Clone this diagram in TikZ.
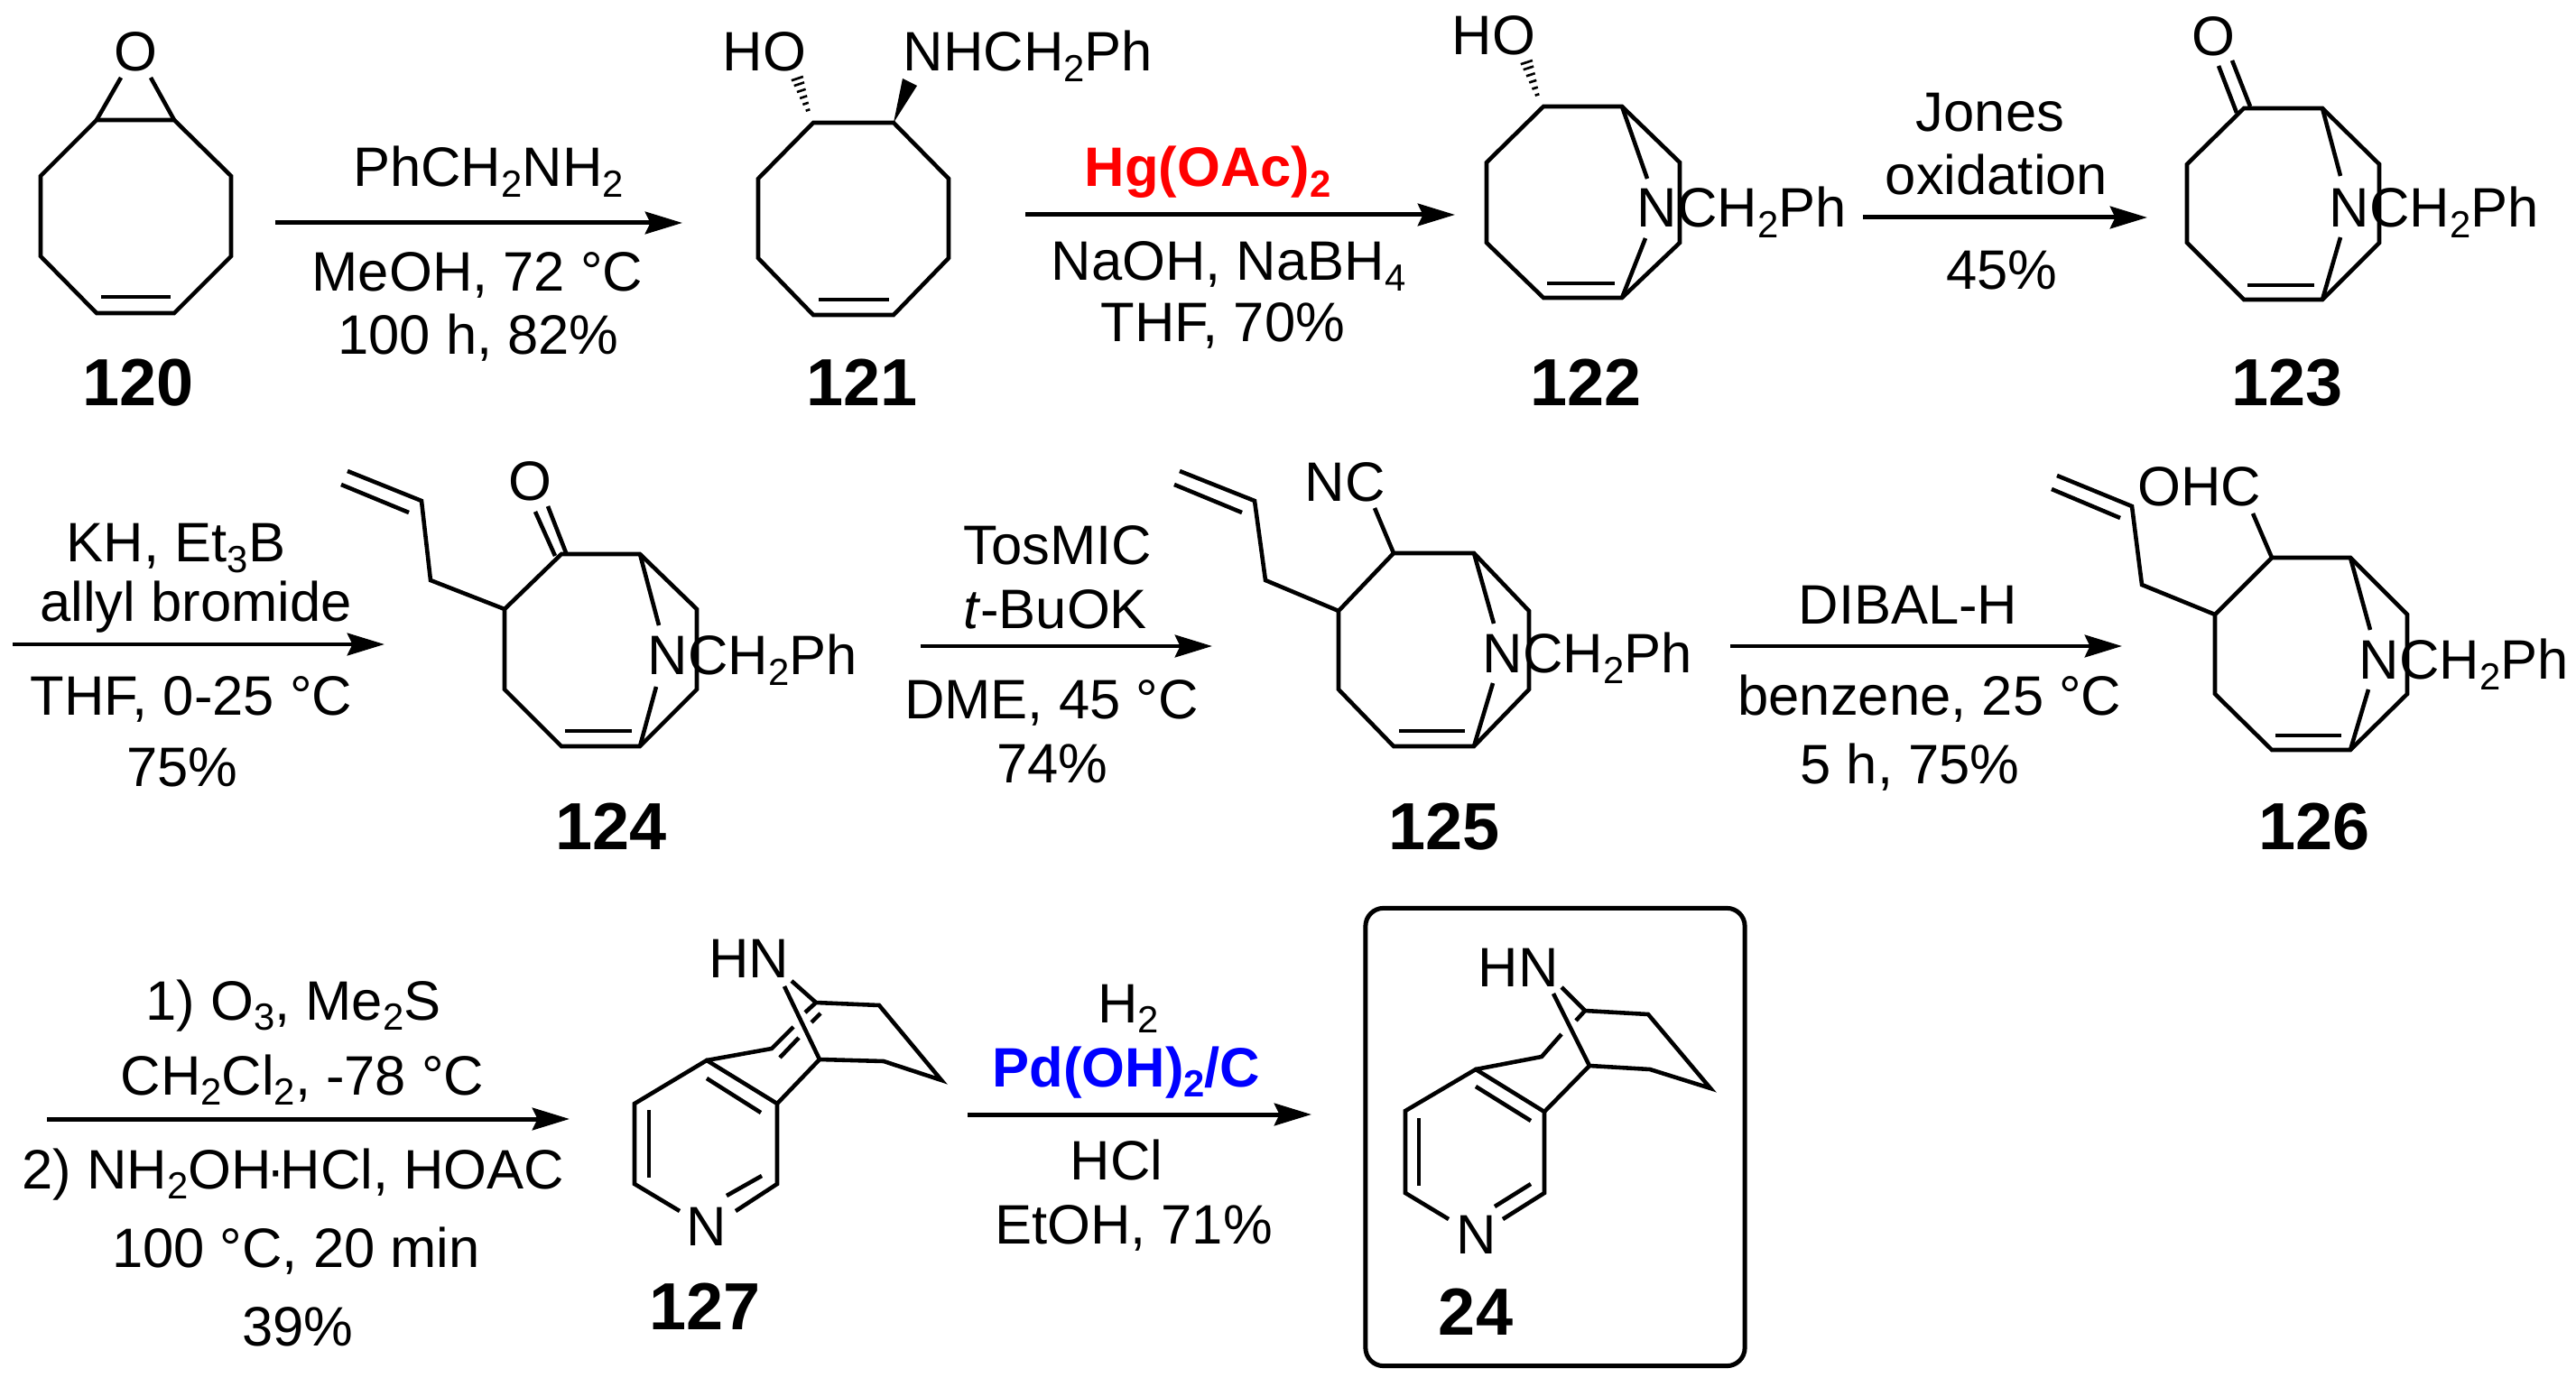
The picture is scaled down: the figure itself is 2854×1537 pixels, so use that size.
\documentclass[tikz,border=0pt]{standalone}
\usepackage{fontspec}
\setmainfont{Liberation Sans}
\usetikzlibrary{arrows.meta, calc}

\newcommand{\subs}[1]{\raisebox{-3.4pt}{\fontsize{11.9}{12}\selectfont #1}}
\newcommand{\pts}[2]{\foreach \vtx/\px/\py in {#2} \coordinate (#1\vtx) at (\px,\py);}
\newcommand{\eightring}[1]{%
  \draw[bond] (#1a) -- (#1b) -- (#1c) -- (#1d) -- (#1e) -- (#1f) -- (#1g) -- (#1h) -- cycle;
  \draw[bond] (#1i) -- (#1j);}
\newcommand{\nbridge}[1]{%
  \draw[bond] (#1b) -- (#1k);
  \draw[bond] (#1l) -- (#1e);}
\newcommand{\allyl}[1]{%
  \draw[bond] (#1h) -- (#1m) -- (#1n) -- (#1o);
  \draw[bond] (#1p) -- (#1q);}
\newcommand{\hashbond}[2]{%
  \foreach \t/\w in {0/0.7,0.2/0.95,0.4/1.2,0.6/1.45,0.8/1.7,0.97/1.95}
    \draw[line width=0.75pt] ($(#1)!\t!(#2)!\w pt!90:(#2)$) -- ($(#1)!\t!(#2)!\w pt!-90:(#2)$);}
\newcommand{\pyridine}[1]{%
  \draw[bond] (#1s2) -- (#1s) -- (#1t) -- (#1p) -- (#1q) -- (#1r) -- (#1r2);
  \draw[bond] (#1i1) -- (#1i2);
  \draw[bond] (#1i3) -- (#1i4);
  \draw[bond] (#1i5) -- (#1i6);
  \draw[bond] (#1p) -- (#1u) -- (#1v);
  \draw[bond] (#1w) -- (#1x) -- (#1y) -- (#1z) -- (#1aa) -- (#1bb) -- (#1q);
  \draw[bond] (#1x) -- (#1hn);
  \draw[bond] (#1bb) -- (#1nb);}

\begin{document}
\begin{tikzpicture}[
x=0.01cm, y=-0.01cm,
bond/.style={line width=1.3pt},
rxn/.style={line width=1.42pt, -{Stealth[length=11.7pt, width=7pt, inset=1.6pt]}},
txt/.style={font=\fontsize{17.5}{21}\selectfont, anchor=base, inner sep=0pt},
sidegroup/.style={txt, anchor=base west},
cmpd/.style={font=\fontsize{21}{25}\selectfont\bfseries, anchor=base, inner sep=0pt},
framebox/.style={draw, line width=1.42pt, rounded corners=0.2cm, minimum width=4.2cm, minimum height=5.07cm, inner sep=0pt}
]
\useasboundingbox (0,0) rectangle (2854,1537);

% row 1
\pts{A}{a/107/133, b/193/133, c/256/195, d/256/284, e/193/347, f/107/347, g/45/284, h/45/195, i/112/329, j/189/329, k/134/86, l/167/86}
\eightring{A}
\node[txt] (oA) at (150,79) {O};
\draw[bond] (Aa) -- (Ak);
\draw[bond] (Ab) -- (Al);
\node[cmpd] (c120) at (153,450) {120};

\coordinate (r1s) at (305,247);
\coordinate (r1e) at (756,247);
\draw[rxn] (r1s) -- (r1e);
\node[txt] (r1a) at (541,207) {PhCH\subs{2}NH\subs{2}};
\node[txt] (r1b) at (529,323) {MeOH, 72 °C};
\node[txt] (r1c) at (530,393) {100 h, 82\%};

\pts{B}{a/901/136, b/990/136, c/1051/198, d/1051/286, e/990/349, f/901/349, g/840/286, h/840/198, i/907/332, j/985/332, m/895/122, n/883/86, o/1000/87, p/1016/95}
\eightring{B}
\node[txt] (hoB) at (847,79) {HO};
\node[sidegroup] (nB) at (1000,79) {NHCH\subs{2}Ph};
\hashbond{Bm}{Bn}
\fill (Bb) -- (Bo) -- (Bp) -- cycle;
\node[cmpd] (c121) at (955,450) {121};

\coordinate (r2s) at (1136,238);
\coordinate (r2e) at (1612,238);
\draw[rxn] (r2s) -- (r2e);
\node[txt, red, font=\fontsize{17.5}{21}\selectfont\bfseries] (r2a) at (1338,207) {Hg(OAc)\subs{2}};
\node[txt] (r2b) at (1361,311) {NaOH, NaBH\subs{4}};
\node[txt] (r2c) at (1355,379) {THF, 70\%};

\pts{C}{a/1710/118, b/1797/118, c/1861/180, d/1861/269, e/1797/330, f/1710/330, g/1647/269, h/1647/180, i/1714/314, j/1789/314, k/1825/198, l/1823/264, m/1703/105, n/1691/68}
\eightring{C}
\nbridge{C}
\node[txt] (hoC) at (1655,61) {HO};
\node[sidegroup] (nC) at (1813,252) {NCH\subs{2}Ph};
\hashbond{Cm}{Cn}
\node[cmpd] (c122) at (1757,450) {122};

\coordinate (r3s) at (2064,241);
\coordinate (r3e) at (2379,241);
\draw[rxn] (r3s) -- (r3e);
\node[txt] (r3a) at (2205,146) {Jones};
\node[txt] (r3b) at (2212,216) {oxidation};
\node[txt] (r3c) at (2218,321) {45\%};

\pts{D}{a/2486/120, b/2573/120, c/2636/182, d/2636/269, e/2573/332, f/2486/332, g/2423/269, h/2423/182, i/2490/316, j/2564/316, k/2593/195, l/2593/263, m/2478/125, n/2458/73, o/2493/118, p/2473/67}
\eightring{D}
\nbridge{D}
\node[txt] (oD) at (2452,62) {O};
\draw[bond] (Dm) -- (Dn);
\draw[bond] (Do) -- (Dp);
\node[sidegroup] (nD) at (2580,252) {NCH\subs{2}Ph};
\node[cmpd] (c123) at (2534,450) {123};

% row 2
\coordinate (r4s) at (14,714);
\coordinate (r4e) at (426,714);
\draw[rxn] (r4s) -- (r4e);
\node[txt] (r4a) at (195,623) {KH, Et\subs{3}B};
\node[txt] (r4b) at (217,689) {allyl bromide};
\node[txt] (r4c) at (212,793) {THF, 0-25 °C};
\node[txt] (r4d) at (202,872) {75\%};

\pts{E}{a/622/614, b/709/614, c/772/675, d/772/764, e/709/827, f/622/827, g/559/764, h/559/675, i/626/810, j/700/810, k/730/693, l/727/761, m/477/643, n/467/555, o/385/522, p/453/568, q/378/537, r/615/616, s/593/567, t/628/615, u/607/561}
\eightring{E}
\nbridge{E}
\allyl{E}
\node[txt] (oE) at (587,555) {O};
\draw[bond] (Er) -- (Es);
\draw[bond] (Et) -- (Eu);
\node[sidegroup] (nE) at (717,748) {NCH\subs{2}Ph};
\node[cmpd] (c124) at (677,942) {124};

\coordinate (r5s) at (1020,716);
\coordinate (r5e) at (1343,716);
\draw[rxn] (r5s) -- (r5e);
\node[txt] (r5a) at (1172,626) {TosMIC};
\node[txt] (r5b) at (1169,697) {\textit{t}-BuOK};
\node[txt] (r5c) at (1165,797) {DME, 45 °C};
\node[txt] (r5d) at (1166,867) {74\%};

\pts{F}{a/1544/613, b/1633/613, c/1694/677, d/1694/764, e/1633/827, f/1544/827, g/1483/764, h/1483/677, i/1550/810, j/1623/810, k/1655/691, l/1654/757, m/1402/643, n/1390/555, o/1307/522, p/1376/568, q/1301/537, r/1523/563}
\eightring{F}
\nbridge{F}
\allyl{F}
\node[txt] (ncF) at (1490,556) {NC};
\draw[bond] (Fa) -- (Fr);
\node[sidegroup] (nF) at (1642,746) {NCH\subs{2}Ph};
\node[cmpd] (c125) at (1600,942) {125};

\coordinate (r6s) at (1917,716);
\coordinate (r6e) at (2351,716);
\draw[rxn] (r6s) -- (r6e);
\node[txt] (r6a) at (2114,692) {DIBAL-H};
\node[txt] (r6b) at (2138,793) {benzene, 25 °C};
\node[txt] (r6c) at (2116,869) {5 h, 75\%};

\pts{G}{a/2517/618, b/2604/618, c/2667/681, d/2667/769, e/2604/831, f/2517/831, g/2454/769, h/2454/681, i/2521/815, j/2594/815, k/2626/698, l/2624/764, m/2373/648, n/2362/561, o/2279/527, p/2349/574, q/2273/542, r/2496/569}
\eightring{G}
\nbridge{G}
\allyl{G}
\node[txt] (ohcG) at (2437,561) {OHC};
\draw[bond] (Ga) -- (Gr);
\node[sidegroup] (nG) at (2613,753) {NCH\subs{2}Ph};
\node[cmpd] (c126) at (2564,942) {126};

% row 3
\coordinate (r7s) at (52,1240);
\coordinate (r7e) at (631,1240);
\draw[rxn] (r7s) -- (r7e);
\node[txt] (r7a) at (325,1130) {1) O\subs{3}, Me\subs{2}S};
\node[txt] (r7b) at (335,1213) {CH\subs{2}Cl\subs{2}, -78 °C};
\node[txt] (r7c) at (325,1317) {2) NH\subs{2}OH\kern-1.5pt·\kern-1.5pt HCl, HOAC};
\node[txt] (r7d) at (328,1404) {100 °C, 20 min};
\node[txt] (r7f) at (330,1491) {39\%};

\pts{H}{p/783/1175, q/861/1223, r/861/1312, r2/815/1342, s/703/1312, s2/753/1342, t/703/1223, i1/719/1230, i2/719/1305, i3/783/1195, i4/843/1233, i5/844/1303, i6/805/1325, u/855/1162, v/879/1138, w/892/1122, x/904/1111, hn/877/1087, y/974/1114, z/1043/1197, aa/979/1176, bb/908/1174, nb/869/1093, d1/864/1172, d2/885/1150, d3/899/1133, d4/909/1123}
\pyridine{H}
\draw[bond] (Hd1) -- (Hd2);
\draw[bond] (Hd3) -- (Hd4);
\node[txt] (hnH) at (830,1083) {HN};
\node[txt] (nH) at (783,1380) {N};
\node[cmpd] (c127) at (781,1473) {127};

\coordinate (r8s) at (1072,1235);
\coordinate (r8e) at (1453,1235);
\draw[rxn] (r8s) -- (r8e);
\node[txt] (r8a) at (1250,1133) {H\subs{2}};
\node[txt, blue, font=\fontsize{17.5}{21}\selectfont\bfseries] (r8b) at (1248,1204) {Pd(OH)\subs{2}/C};
\node[txt] (r8c) at (1237,1307) {HCl};
\node[txt] (r8d) at (1256,1378) {EtOH, 71\%};

\node[framebox] (box24) at (1723,1260) {};
\pts{J}{p/1635/1185, q/1711/1232, r/1711/1322, r2/1665/1351, s/1557/1322, s2/1605/1351, t/1557/1231, i1/1572/1239, i2/1572/1314, i3/1635/1204, i4/1696/1242, i5/1696/1312, i6/1656/1337, u/1708/1171, v/1730/1146, w/1746/1131, x/1756/1120, hn/1730/1094, y/1826/1124, z/1895/1206, aa/1828/1185, bb/1761/1181, nb/1721/1101}
\pyridine{J}
\node[txt] (hnJ) at (1682,1093) {HN};
\node[txt] (nJ) at (1636,1389) {N};
\node[cmpd] (c24) at (1635,1479) {24};
\end{tikzpicture}
\end{document}
